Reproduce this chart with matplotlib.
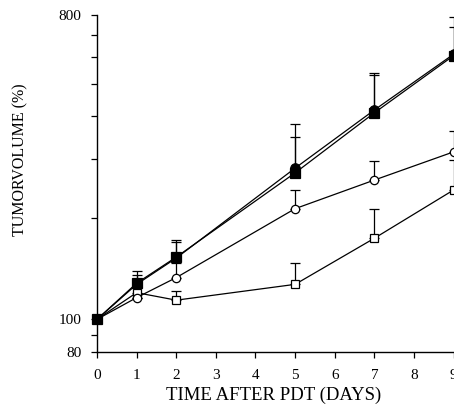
import numpy as np
import matplotlib.pyplot as plt
from matplotlib.ticker import FixedLocator, FixedFormatter, NullFormatter

plt.rcParams['font.family'] = ['Liberation Serif', 'DejaVu Serif']

days = [0, 1, 2, 5, 7, 9]

# mean tumour volume, % of the day-0 volume
filled_circle = [100, 127, 152, 281, 418, 612]
filled_square = [100, 128, 153, 272, 410, 606]
open_circle = [100, 116, 133, 213, 259, 314]
open_square = [100, 120, 114, 127, 174, 242]

# upper end of each error bar (only the upper half is drawn)
filled_circle_hi = [100, 139, 172, 380, 538, 790]
filled_square_hi = [100, 135, 170, 348, 530, 736]
open_circle_hi = [100, 116, 147, 242, 295, 362]
open_square_hi = [100, 124, 121, 147, 212, 297]

y_major = [80, 100, 800]
y_major_labels = ['80', '100', '800']
y_minor = [90, 200, 300, 400, 500, 600, 700]
x_ticks = [0, 1, 2, 3, 4, 5, 6, 7, 8, 9]

W, H = 454, 415
fig = plt.figure(figsize=(W / 100, H / 100), dpi=100)
px_day = 39.62
ax = fig.add_axes([97 / W, 63 / H, 9.5 * px_day / W, 337 / H])


def series(vals, hi, face, marker, size, z):
    vals = np.array(vals, dtype=float)
    up = np.array(hi, dtype=float) - vals
    ax.errorbar(days, vals, yerr=[np.zeros_like(up), up], fmt='none',
                ecolor='black', elinewidth=0.9, capsize=3.6, capthick=0.9,
                zorder=z)
    ax.plot(days, vals, color='black', lw=0.9, marker=marker, ms=size,
            mfc=face, mec='black', mew=0.9, zorder=z + 0.5, clip_on=False)


series(open_square, open_square_hi, 'white', 's', 6.2, 2)
series(open_circle, open_circle_hi, 'white', 'o', 6.0, 3)
series(filled_circle, filled_circle_hi, 'black', 'o', 6.8, 4)
series(filled_square, filled_square_hi, 'black', 's', 7.0, 5)

ax.set_yscale('log')
ax.set_ylim(80, 800)
ax.set_xlim(0, 9.5)
ax.yaxis.set_major_locator(FixedLocator(y_major))
ax.yaxis.set_major_formatter(FixedFormatter(y_major_labels))
ax.yaxis.set_minor_locator(FixedLocator(y_minor))
ax.yaxis.set_minor_formatter(NullFormatter())
ax.set_xticks(x_ticks)
ax.set_xticklabels([str(t) for t in x_ticks])

for s in ['top', 'right']:
    ax.spines[s].set_visible(False)
for s in ['left', 'bottom']:
    ax.spines[s].set_linewidth(1.0)

ax.tick_params(axis='y', which='both', direction='out', length=4, width=0.9,
               pad=7, labelsize=11)
ax.tick_params(axis='x', direction='out', length=4, width=0.9, pad=8,
               labelsize=11)

fig.text(274 / W, 1 - 395 / H, 'TIME AFTER PDT (DAYS)', ha='center',
         va='center', fontsize=13.5)
fig.text(20 / W, 1 - 160 / H, 'TUMORVOLUME (%)', ha='center', va='center',
         rotation=90, fontsize=11.5)

fig.savefig('out.png', dpi=100, facecolor='white')
